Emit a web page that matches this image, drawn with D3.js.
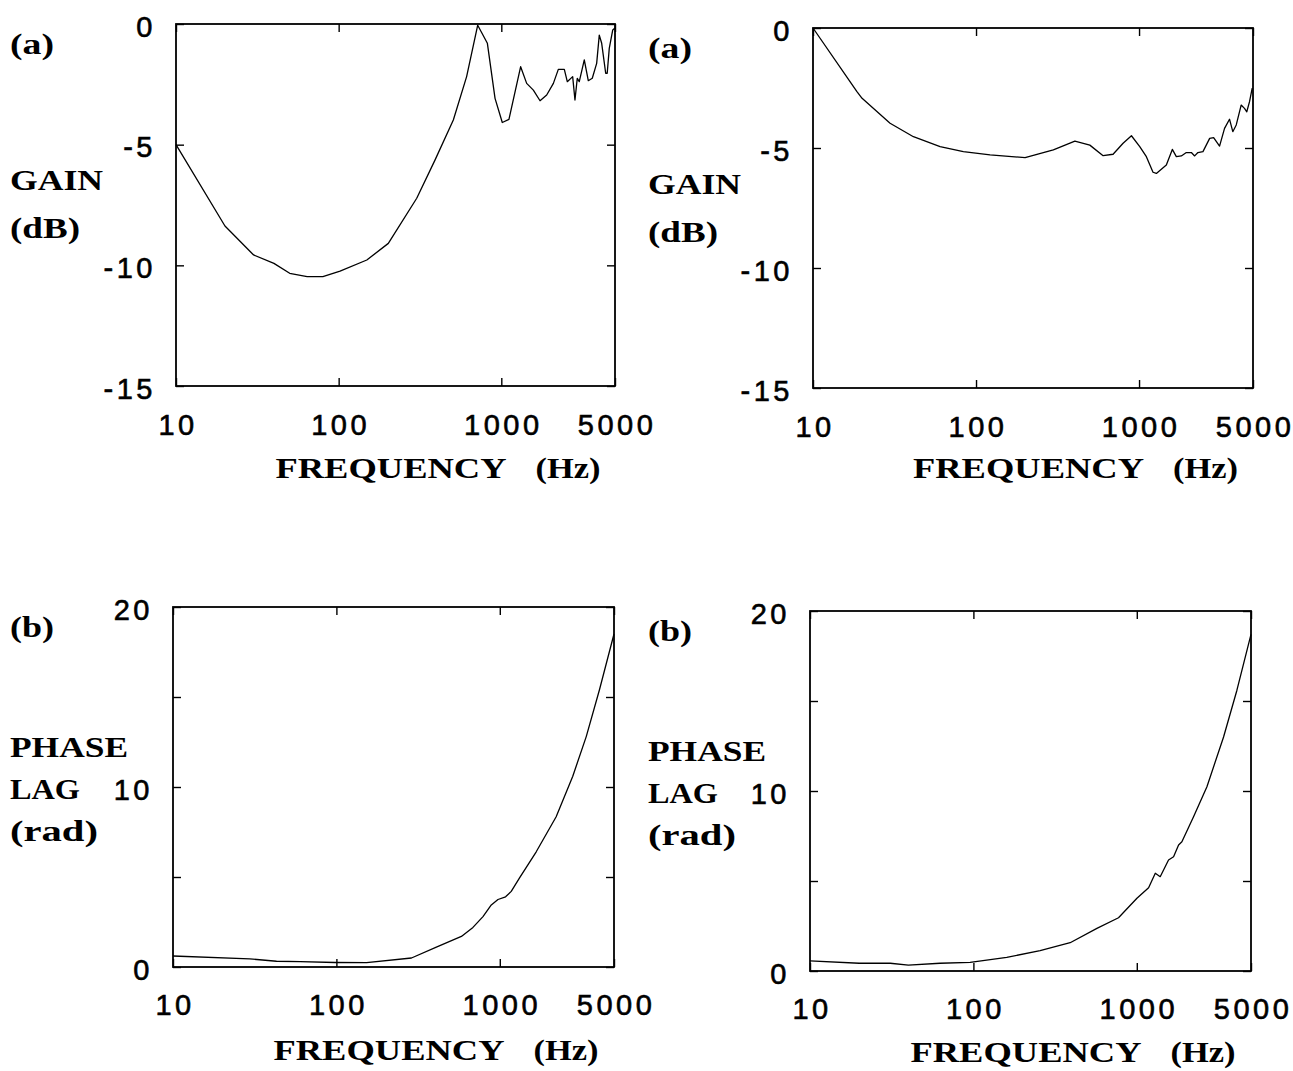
<!DOCTYPE html>
<html>
<head>
<meta charset="utf-8">
<script src="https://cdn.jsdelivr.net/npm/d3@7"></script>
<style>
  html, body { margin: 0; padding: 0; background: #fff; }
  svg { display: block; }
  .tick text { font-family: "Liberation Sans", Arial, sans-serif; font-size: 29px; letter-spacing: 3.5px; fill: #000; stroke: #000; stroke-width: 0.6px; }
  .lab { font-family: "Liberation Serif", "Times New Roman", serif; font-weight: bold; font-size: 29px; fill: #000; }
</style>
</head>
<body>
<script>
// ---- data ----
const xTickValues = [10, 100, 1000, 5000];
const xTickLabels = ["10", "100", "1000", "5000"];
const gainTickValues = [0, -5, -10, -15];
const phaseTickValues = [0, 5, 10, 15, 20];
const phaseTickLabels = ["0", "", "10", "", "20"];

// (a) left : gain (dB)
const freqGainL = [10,20,30,40,50,64,80,102,149,202,302,391,507,612,716,821,915,1014,1114,1315,1432,1574,1730,1901,2090,2241,2440,2545,2746,2837,2931,3015,3237,3426,3625,3857,4002,4141,4383,4478,4610,4840,5000];
const gainL = [-5.0,-8.37,-9.57,-9.92,-10.33,-10.47,-10.47,-10.24,-9.78,-9.09,-7.22,-5.64,-3.98,-2.18,-0.05,-0.80,-3.08,-4.08,-3.95,-1.77,-2.46,-2.74,-3.18,-2.94,-2.46,-1.88,-1.88,-2.39,-2.18,-3.15,-2.25,-2.39,-1.49,-2.35,-2.25,-1.63,-0.46,-0.80,-2.04,-2.04,-1.01,-0.25,-0.17];

// (a) right : gain (dB)
const freqGainR = [10,18.6,20,29.7,41.3,60.2,83.6,122,200,298,404,499,602,693,798,898,1010,1109,1218,1277,1470,1600,1693,1817,1950,2093,2193,2297,2466,2711,2867,3118,3345,3588,3759,3946,4230,4434,4580,4761,4945];
const gainR = [0,-2.65,-2.93,-3.97,-4.53,-4.94,-5.15,-5.29,-5.40,-5.08,-4.71,-4.88,-5.32,-5.26,-4.80,-4.49,-4.94,-5.36,-6.01,-6.06,-5.71,-5.06,-5.36,-5.33,-5.19,-5.19,-5.33,-5.19,-5.15,-4.60,-4.57,-4.92,-4.18,-3.80,-4.32,-4.04,-3.21,-3.35,-3.49,-3.07,-2.51];

// (b) left : phase lag (rad)
const freqPhaseL = [10,29.5,43,60,98,153,288,409,582,685,789,887,975,1085,1175,1321,1671,2213,2797,3381,4074,5000];
const phaseL = [0.61,0.45,0.32,0.30,0.25,0.24,0.50,1.1,1.7,2.2,2.8,3.45,3.75,3.9,4.2,4.95,6.4,8.35,10.6,12.8,15.4,18.5];

// (b) right : phase lag (rad)
const freqPhaseR = [10,20,31,40,62.5,95.5,160,256,391,570,773,1002,1181,1298,1391,1564,1679,1802,1888,2225,2687,3397,4100,5000];
const phaseR = [0.56,0.43,0.43,0.33,0.43,0.48,0.76,1.13,1.57,2.37,2.96,4.04,4.63,5.43,5.24,6.17,6.35,7.0,7.18,8.57,10.24,13.0,15.6,18.7];

// ---- drawing ----
const W = 1293, H = 1071;
const svg = d3.select("body").append("svg").attr("width", W).attr("height", H);

const panels = [
  { box: [176, 615, 24, 386], yDomain: [-15, 0], f: freqGainL, v: gainL, kind: "gain", lx: 10, titleY: 468 },
  { box: [813, 1253, 28, 388], yDomain: [-15, 0], f: freqGainR, v: gainR, kind: "gain", lx: 648, titleY: 468 },
  { box: [173, 614, 607, 967], yDomain: [0, 20], f: freqPhaseL, v: phaseL, kind: "phase", lx: 10, titleY: 1050 },
  { box: [810, 1251, 611, 971], yDomain: [0, 20], f: freqPhaseR, v: phaseR, kind: "phase", lx: 648, titleY: 1052 }
];

function fitText(sel, len) {
  sel.attr("textLength", len).attr("lengthAdjust", "spacingAndGlyphs");
}

panels.forEach(p => {
  const [x0, x1, y0, y1] = p.box;
  const x = d3.scaleLog().domain([10, 5000]).range([x0, x1]);
  const y = d3.scaleLinear().domain(p.yDomain).range([y1, y0]);
  const g = svg.append("g");
  const tk = 8;

  const yVals = p.kind === "gain" ? gainTickValues : phaseTickValues;
  const yFmt = p.kind === "gain" ? (d => String(d)) : (d => phaseTickLabels[phaseTickValues.indexOf(d)]);

  const xb = g.append("g").attr("transform", `translate(0,${y1})`)
    .call(d3.axisBottom(x).tickValues(xTickValues).tickFormat((d, i) => xTickLabels[i]).tickSize(-tk).tickPadding(p.kind === "gain" ? 39 : 38));
  const xt = g.append("g").attr("transform", `translate(0,${y0})`)
    .call(d3.axisTop(x).tickValues(xTickValues).tickFormat("").tickSize(-tk));
  const yl = g.append("g").attr("transform", `translate(${x0},0)`)
    .call(d3.axisLeft(y).tickValues(yVals).tickFormat(yFmt).tickSize(-tk).tickPadding(20));
  const yr = g.append("g").attr("transform", `translate(${x1},0)`)
    .call(d3.axisRight(y).tickValues(yVals).tickFormat("").tickSize(-tk));

  [xb, xt, yl, yr].forEach(a => {
    a.select(".domain").remove();
    a.selectAll(".tick line").attr("stroke", "#000").attr("stroke-width", 1.4);
  });
  xb.selectAll(".tick text").attr("dy", "0.35em").attr("dx", "1.5px");
  yl.selectAll(".tick text").attr("dy", "0.42em");

  g.append("rect").attr("x", x0).attr("y", y0).attr("width", x1 - x0).attr("height", y1 - y0)
    .attr("fill", "none").attr("stroke", "#000").attr("stroke-width", 1.8);

  const data = p.f.map((f, i) => [f, p.v[i]]);
  g.append("path").datum(data)
    .attr("fill", "none").attr("stroke", "#000").attr("stroke-width", 1.3).attr("stroke-linejoin", "round")
    .attr("d", d3.line().x(d => x(d[0])).y(d => y(d[1])));

  const cx = (x0 + x1) / 2;
  fitText(g.append("text").attr("class", "lab").attr("x", cx - 120).attr("y", p.titleY + 10).text("FREQUENCY"), 231);
  fitText(g.append("text").attr("class", "lab").attr("x", cx + 140).attr("y", p.titleY + 10).text("(Hz)"), 65);

  if (p.kind === "gain") {
    fitText(g.append("text").attr("class", "lab").attr("x", p.lx).attr("y", y0 + 30).text("(a)"), 44);
    fitText(g.append("text").attr("class", "lab").attr("x", p.lx).attr("y", y0 + 166).text("GAIN"), 93);
    fitText(g.append("text").attr("class", "lab").attr("x", p.lx).attr("y", y0 + 214).text("(dB)"), 70);
  } else {
    fitText(g.append("text").attr("class", "lab").attr("x", p.lx).attr("y", y0 + 30).text("(b)"), 44);
    fitText(g.append("text").attr("class", "lab").attr("x", p.lx).attr("y", y0 + 150).text("PHASE"), 118);
    fitText(g.append("text").attr("class", "lab").attr("x", p.lx).attr("y", y0 + 192).text("LAG"), 70);
    fitText(g.append("text").attr("class", "lab").attr("x", p.lx).attr("y", y0 + 234).text("(rad)"), 88);
  }
});
</script>
</body>
</html>
